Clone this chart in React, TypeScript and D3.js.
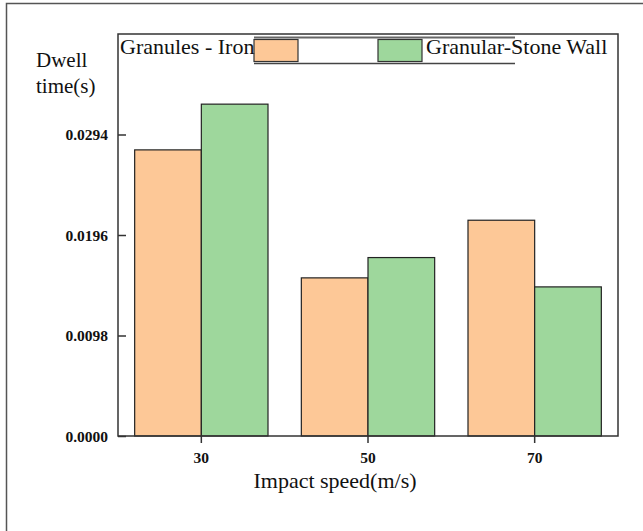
import { useEffect, useRef } from "react";
import * as d3 from "d3";

const speeds = ["30", "50", "70"];
const ironValues = [0.0279, 0.01542, 0.02104];
const stoneValues = [0.03236, 0.0174, 0.01454];
const yTicks = [0, 0.0098, 0.0196, 0.0294];
const seriesNames = ["Granules - Iron", "Granular-Stone Wall"];
const colors = ["#FDC897", "#9ED79C"];

const App = () => {
  const svgRef = useRef<SVGSVGElement>(null);

  useEffect(() => {
    const svg = d3.select(svgRef.current);
    svg.selectAll("*").remove();

    const left = 118, right = 618, top = 34, bottom = 436;

    // outer frame
    svg.append("rect")
      .attr("x", 6.5).attr("y", 3.5)
      .attr("width", 700).attr("height", 600)
      .attr("fill", "white").attr("stroke", "#555").attr("stroke-width", 1.5);

    const x = d3.scaleBand().domain(speeds).range([left, right]).paddingInner(0.2).paddingOuter(0.1);
    const y = d3.scaleLinear().domain([0, 0.0392]).range([bottom, top]);
    const half = x.bandwidth() / 2;

    const series = [ironValues, stoneValues];
    series.forEach((vals, si) => {
      svg.append("g")
        .selectAll("rect")
        .data(vals)
        .join("rect")
        .attr("x", (_, i) => (x(speeds[i]) as number) + si * half)
        .attr("y", (d) => y(d))
        .attr("width", half)
        .attr("height", (d) => bottom - y(d))
        .attr("fill", colors[si])
        .attr("stroke", "#222")
        .attr("stroke-width", 1.2);
    });

    // plot frame
    svg.append("rect")
      .attr("x", left).attr("y", top)
      .attr("width", right - left).attr("height", bottom - top)
      .attr("fill", "none").attr("stroke", "#333").attr("stroke-width", 1.5);

    // y axis, ticks pointing inward
    const yAxis = svg.append("g")
      .attr("transform", `translate(${left},0)`)
      .call(d3.axisRight(y).tickValues(yTicks).tickSize(8).tickFormat(d3.format(".4f")))
      .attr("font-family", null)
      .attr("font-size", null);
    yAxis.select(".domain").remove();
    yAxis.selectAll("line").attr("stroke", "#333").attr("stroke-width", 1.5);
    yAxis.selectAll("text")
      .attr("x", -10)
      .attr("text-anchor", "end")
      .attr("dy", "0.35em")
      .attr("font-size", 15.5)
      .attr("font-weight", "bold")
      .attr("fill", "#111");

    // x axis
    const xAxis = svg.append("g")
      .attr("transform", `translate(0,${bottom})`)
      .call(d3.axisBottom(x).tickSize(7).tickPadding(9))
      .attr("font-family", null)
      .attr("font-size", null);
    xAxis.select(".domain").remove();
    xAxis.selectAll("line").attr("stroke", "#333").attr("stroke-width", 1.5);
    xAxis.selectAll("text")
      .attr("font-size", 15.5)
      .attr("font-weight", "bold")
      .attr("fill", "#111");

    // axis titles
    svg.append("text")
      .attr("x", 335).attr("y", 488)
      .attr("text-anchor", "middle")
      .attr("font-size", 22)
      .attr("fill", "#111")
      .text("Impact speed(m/s)");

    const yt = svg.append("text")
      .attr("font-size", 21)
      .attr("fill", "#111");
    yt.append("tspan").attr("x", 36).attr("y", 67).text("Dwell");
    yt.append("tspan").attr("x", 36).attr("y", 93).text("time(s)");

    // legend
    const lg = svg.append("g");
    lg.append("line").attr("x1", 254).attr("x2", 515).attr("y1", 37.5).attr("y2", 37.5)
      .attr("stroke", "#666").attr("stroke-width", 2);
    lg.append("line").attr("x1", 254).attr("x2", 515).attr("y1", 63.5).attr("y2", 63.5)
      .attr("stroke", "#444").attr("stroke-width", 1.5);
    const swatchX = [254, 378];
    swatchX.forEach((sx, i) => {
      lg.append("rect")
        .attr("x", sx).attr("y", 39.5)
        .attr("width", 44).attr("height", 22)
        .attr("fill", colors[i]).attr("stroke", "#333").attr("stroke-width", 1.2);
    });
    lg.append("text")
      .attr("x", 120).attr("y", 54)
      .attr("font-size", 22)
      .attr("fill", "#111")
      .text(seriesNames[0]);
    lg.append("text")
      .attr("x", 426).attr("y", 54)
      .attr("font-size", 22)
      .attr("fill", "#111")
      .text(seriesNames[1]);
  }, []);

  return (
    <svg
      ref={svgRef}
      width={643}
      height={531}
      fontFamily="Liberation Serif, Times New Roman, serif"
      style={{ position: "absolute", left: 0, top: 0, background: "white" }}
    />
  );
};

export default App;
